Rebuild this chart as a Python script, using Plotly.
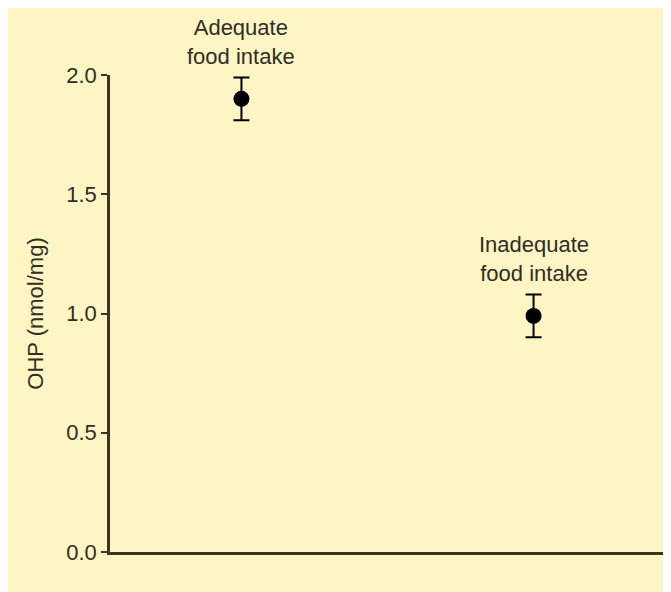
import plotly.graph_objects as go

groups = ["Adequate<br>food intake", "Inadequate<br>food intake"]
x_pos = [0, 1]
ohp_values = [1.90, 0.99]
ohp_errors = [0.09, 0.09]
y_ticks = [0.0, 0.5, 1.0, 1.5, 2.0]
y_tick_labels = ["0.0", "0.5", "1.0", "1.5", "2.0"]

axis_color = "#3b3622"
text_color = "#302d25"
font_family = "Liberation Sans, Arial, sans-serif"

fig = go.Figure()
fig.add_trace(go.Scatter(
    x=x_pos, y=ohp_values, mode="markers",
    marker=dict(size=16, color="black"),
    error_y=dict(type="data", array=ohp_errors, color="black", thickness=2, width=8),
    cliponaxis=False, showlegend=False,
))

for xp, yv, er, label in zip(x_pos, ohp_values, ohp_errors, groups):
    fig.add_annotation(
        x=xp, y=yv + er, xref="x", yref="y", text=label, showarrow=False,
        yanchor="bottom", yshift=6, font=dict(size=22, color=text_color, family=font_family),
        align="center",
    )

fig.update_layout(
    width=671, height=592,
    margin=dict(l=102, r=14, t=67, b=48),
    paper_bgcolor="#FDF6C4", plot_bgcolor="rgba(0,0,0,0)",
    font=dict(family=font_family, size=22, color=text_color),
    xaxis=dict(range=[-0.45, 1.45], showticklabels=False, ticks="", showgrid=False,
               zeroline=False, showline=True, linecolor=axis_color, linewidth=2.5),
    yaxis=dict(range=[0, 2.0], tickvals=y_ticks, ticktext=y_tick_labels,
               ticks="outside", ticklen=6, tickcolor=axis_color, tickwidth=1.5,
               showgrid=False, zeroline=False, showline=True, linecolor=axis_color,
               linewidth=2.5, tickfont=dict(size=22, color=text_color),
               title=dict(text="OHP (nmol/mg)", standoff=17,
                          font=dict(size=22, color=text_color))),
)

fig.write_html("out.html")
